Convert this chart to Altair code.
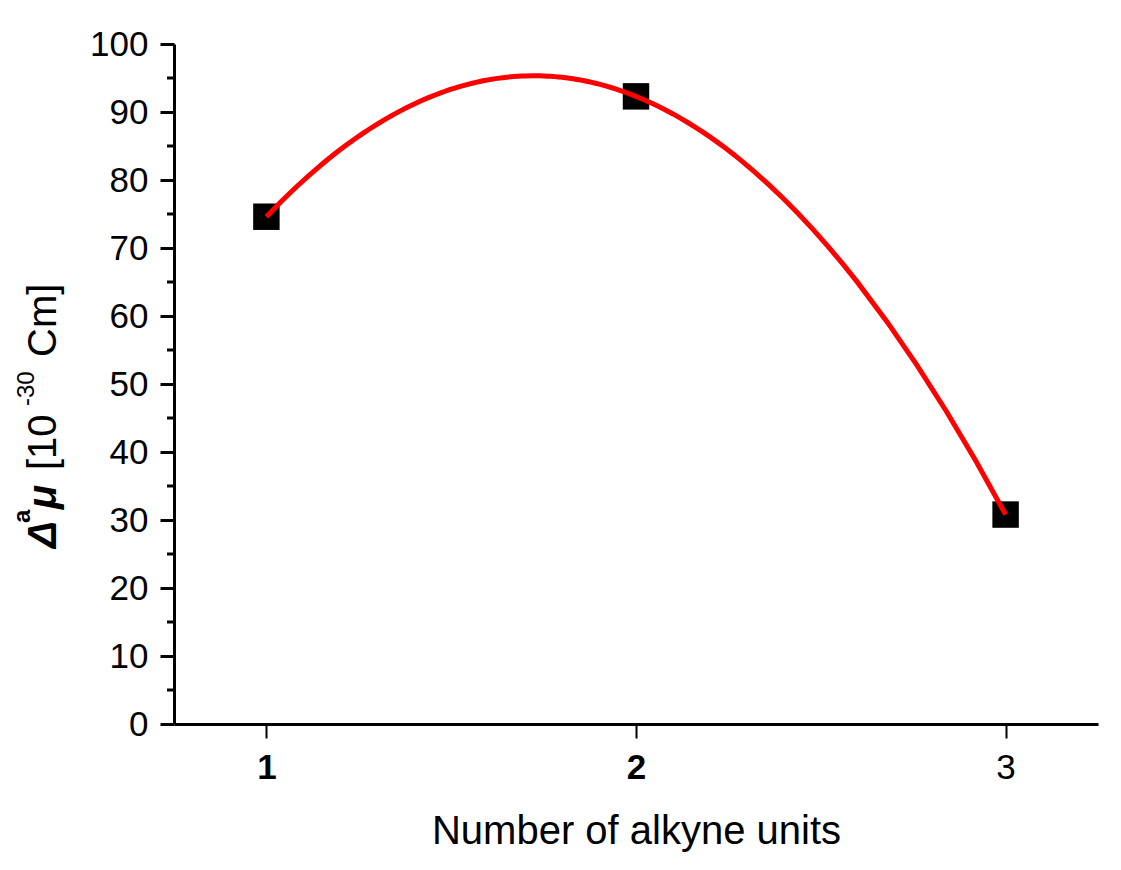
import altair as alt
import pandas as pd

# ---- data ----
alkyne_units = [1, 2, 3]
delta_mu = [74.6, 92.3, 30.8]
x_tick_values = [1, 2, 3]
y_major_ticks = [0, 10, 20, 30, 40, 50, 60, 70, 80, 90, 100]
y_minor_ticks = [5, 15, 25, 35, 45, 55, 65, 75, 85, 95]

FONT = "Liberation Sans"

df = pd.DataFrame({"n": alkyne_units, "mu": delta_mu})
minor_df = pd.DataFrame({"v": y_minor_ticks})

x_scale = alt.Scale(domain=[0.75, 3.25], nice=False, zero=False)
y_scale = alt.Scale(domain=[0, 100], nice=False, zero=True)

x_axis = alt.Axis(
    values=x_tick_values, format="d", grid=False,
    title="Number of alkyne units",
    domainColor="black", domainWidth=3,
    tickColor="black", tickWidth=2, tickSize=14,
    labelFont=FONT, labelFontSize=35, labelColor="black", labelPadding=12,
    labelFlush=False,
    labelFontWeight={"condition": {"test": "datum.value < 3", "value": "bold"}, "value": "normal"},
    titleFont=FONT, titleFontSize=40, titleFontWeight="normal", titleColor="black",
    titleBaseline="alphabetic", titleY=119,
)

y_axis = alt.Axis(
    values=y_major_ticks, format="d", grid=False, title=None,
    domainColor="black", domainWidth=3,
    tickColor="black", tickWidth=3, tickSize=14,
    labelFont=FONT, labelFontSize=35, labelColor="black", labelPadding=12,
    labelFlush=False,
)

points = alt.Chart(df).mark_square(size=700, color="black", opacity=1, filled=True).encode(
    x=alt.X("n:Q", scale=x_scale, axis=x_axis),
    y=alt.Y("mu:Q", scale=y_scale, axis=y_axis),
)

curve = alt.Chart(df).transform_regression(
    "n", "mu", method="poly", order=2, extent=[1, 3]
).mark_line(color="#ff0000", strokeWidth=5).encode(
    x=alt.X("n:Q", scale=x_scale, axis=x_axis),
    y=alt.Y("mu:Q", scale=y_scale, axis=y_axis),
)

minor = alt.Chart(minor_df).mark_rule(color="black", strokeWidth=3).encode(
    y=alt.Y("v:Q", scale=y_scale, axis=y_axis),
    x=alt.value(-7), x2=alt.value(0),
)

def seg(text, x, y, size, weight="normal", style="normal"):
    return alt.Chart(pd.DataFrame({"t": [text]})).mark_text(
        angle=270, align="left", baseline="alphabetic", font=FONT,
        fontSize=size, fontWeight=weight, fontStyle=style, color="black",
    ).encode(text="t:N", x=alt.value(x), y=alt.value(y))

y_title = [
    seg("Δ", -118, 504, 40, "bold", "italic"),
    seg("a", -144, 479, 24, "bold"),
    seg("μ", -118, 465, 40, "bold", "italic"),
    seg("[10", -118, 426, 40),
    seg("-30", -140, 362, 24),
    seg("Cm]", -118, 313, 40),
]

chart = alt.layer(points, minor, curve, *y_title).properties(
    width=924, height=680,
    autosize=alt.AutoSizeParams(type="none"),
    padding={"left": 166, "top": 36, "right": 15, "bottom": 130},
    background="white",
).configure_view(stroke=None)

chart.save("out.html", embed_options={"renderer": "svg", "actions": False})
